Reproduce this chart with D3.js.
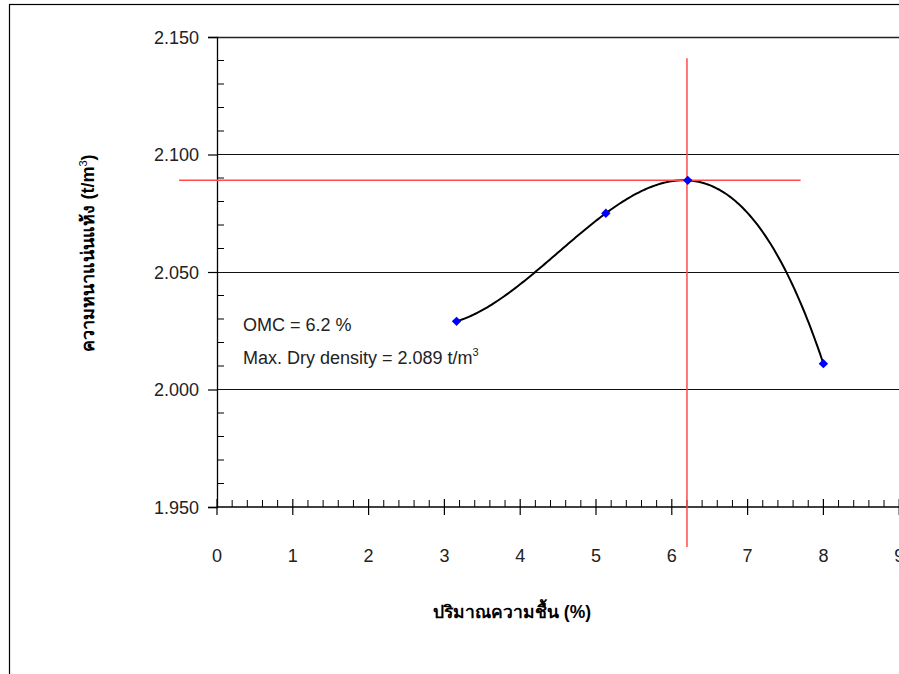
<!DOCTYPE html>
<html>
<head>
<meta charset="utf-8">
<script src="https://cdn.jsdelivr.net/npm/d3@7"></script>
<style>
  html, body { margin: 0; padding: 0; background: #fff; }
  svg { display: block; }
  text { font-family: "Liberation Sans", Arial, "Noto Sans", sans-serif; fill: #222; }
  .title { font-weight: bold; fill: #000; }
</style>
</head>
<body>
<svg id="chart" width="899" height="674"></svg>
<script>
// Compaction test results: moisture content (%) vs dry density (t/m3)
const moisture = [3.16, 5.13, 6.21, 8.00];
const dryDensity = [2.029, 2.075, 2.089, 2.011];

// Result of the test, marked with red guide lines
const omc = 6.2;
const maxDryDensity = 2.089;
const guideX = [-0.5, 7.7];     // extent of the horizontal guide (moisture %)
const guideY = [1.933, 2.141];  // extent of the vertical guide (t/m3)

// Axis ticks
const xTicks = [0, 1, 2, 3, 4, 5, 6, 7, 8, 9];
const yTicks = [1.950, 2.000, 2.050, 2.100, 2.150];

const xTitle = "ปริมาณความชื้น (%)";
const yTitle = "ความหนาแน่นแห้ง";

const svg = d3.select("#chart");

// Outer frame
svg.append("rect")
  .attr("x", 9.5).attr("y", 4.5)
  .attr("width", 1000).attr("height", 1000)
  .attr("fill", "none").attr("stroke", "#000").attr("stroke-width", 1.2);

const x = d3.scaleLinear().domain([0, 10]).range([217, 975]);
const y = d3.scaleLinear().domain([1.95, 2.15]).range([507, 37]);
const xRight = 899;

// Horizontal gridlines
svg.append("g").selectAll("line")
  .data(yTicks.filter(v => v > 1.95))
  .join("line")
  .attr("x1", x(0)).attr("x2", xRight)
  .attr("y1", d => Math.round(y(d)) + 0.5).attr("y2", d => Math.round(y(d)) + 0.5)
  .attr("stroke", d => d === 2.15 ? "#222" : "#111")
  .attr("stroke-width", d => d === 2.15 ? 1.6 : 1);

// Y axis with outward major ticks
const yAxis = d3.axisLeft(y).tickValues(yTicks).tickFormat(d3.format(".3f"))
  .tickSize(9).tickPadding(9);
const gy = svg.append("g").attr("transform", `translate(${x(0)},0)`).call(yAxis);
gy.select(".domain").attr("stroke", "#000").attr("stroke-width", 1.3);
gy.selectAll(".tick line").attr("stroke", "#000").attr("stroke-width", 1.2);
gy.selectAll(".tick text").style("font-size", "18px").attr("fill", "#222")
  .attr("dy", "0.36em");

// Y minor ticks (inside)
const yMinor = d3.range(195, 215).map(v => v / 100).filter(v => Math.round(v * 100) % 5 !== 0);
svg.append("g").selectAll("line")
  .data(yMinor)
  .join("line")
  .attr("x1", x(0)).attr("x2", x(0) + 7)
  .attr("y1", d => y(d)).attr("y2", d => y(d))
  .attr("stroke", "#000").attr("stroke-width", 1);

// X axis line
svg.append("line")
  .attr("x1", x(0)).attr("x2", xRight)
  .attr("y1", y(1.95)).attr("y2", y(1.95))
  .attr("stroke", "#000").attr("stroke-width", 1.6);

// X major ticks crossing the axis
svg.append("g").selectAll("line")
  .data(xTicks)
  .join("line")
  .attr("x1", d => x(d)).attr("x2", d => x(d))
  .attr("y1", y(1.95) - 8).attr("y2", y(1.95) + 8)
  .attr("stroke", "#000").attr("stroke-width", 1.2);

// X minor ticks (every 0.2, pointing up)
const xMinor = d3.range(0, 50).map(v => v / 5).filter(v => Math.round(v * 5) % 5 !== 0);
svg.append("g").selectAll("line")
  .data(xMinor)
  .join("line")
  .attr("x1", d => x(d)).attr("x2", d => x(d))
  .attr("y1", y(1.95) - 7).attr("y2", y(1.95))
  .attr("stroke", "#000").attr("stroke-width", 1);

// X tick labels
svg.append("g").selectAll("text")
  .data(xTicks)
  .join("text")
  .attr("x", d => x(d)).attr("y", 562)
  .attr("text-anchor", "middle")
  .style("font-size", "18px")
  .text(d => d);

// Axis titles
svg.append("text").attr("class", "title")
  .attr("x", 512).attr("y", 618)
  .attr("text-anchor", "middle")
  .style("font-size", "17.5px")
  .text(xTitle);

const yt = svg.append("text").attr("class", "title")
  .attr("transform", "translate(94,253) rotate(-90)")
  .attr("text-anchor", "middle")
  .style("font-size", "18px");
yt.append("tspan").text(yTitle + " (t/m");
yt.append("tspan").attr("dy", -7).style("font-size", "11px").style("font-weight", "normal").text("3");
yt.append("tspan").attr("dy", 7).text(")");

// Third-order polynomial trendline fitted to the test points (least squares)
function polyFit(xs, ys, order) {
  const n = order + 1;
  const A = Array.from({length: n}, () => new Array(n + 1).fill(0));
  xs.forEach((xv, k) => {
    for (let i = 0; i < n; i++) {
      for (let j = 0; j < n; j++) A[i][j] += Math.pow(xv, i + j);
      A[i][n] += ys[k] * Math.pow(xv, i);
    }
  });
  for (let c = 0; c < n; c++) {
    let p = c;
    for (let r = c + 1; r < n; r++) if (Math.abs(A[r][c]) > Math.abs(A[p][c])) p = r;
    [A[c], A[p]] = [A[p], A[c]];
    for (let r = 0; r < n; r++) {
      if (r === c) continue;
      const f = A[r][c] / A[c][c];
      for (let k = c; k <= n; k++) A[r][k] -= f * A[c][k];
    }
  }
  return A.map((row, i) => row[n] / row[i]);
}
const coef = polyFit(moisture, dryDensity, 3);
const poly = v => coef.reduce((s, c, i) => s + c * Math.pow(v, i), 0);
const [xMin, xMax] = d3.extent(moisture);
const fitXs = d3.range(0, 201).map(i => xMin + (xMax - xMin) * i / 200);

svg.append("path")
  .datum(fitXs)
  .attr("fill", "none")
  .attr("stroke", "#000")
  .attr("stroke-width", 2)
  .attr("d", d3.line().x(d => x(d)).y(d => y(poly(d))));

// Red guide lines at the optimum moisture content and maximum dry density
svg.append("line")
  .attr("x1", x(guideX[0])).attr("x2", x(guideX[1]))
  .attr("y1", y(maxDryDensity)).attr("y2", y(maxDryDensity))
  .attr("stroke", "#ff4a4a").attr("stroke-width", 1.5);
svg.append("line")
  .attr("x1", x(omc)).attr("x2", x(omc))
  .attr("y1", y(guideY[1])).attr("y2", y(guideY[0]))
  .attr("stroke", "#ff4a4a").attr("stroke-width", 1.5);

// Test points (diamonds)
svg.append("g").selectAll("path")
  .data(moisture.map((m, i) => [m, dryDensity[i]]))
  .join("path")
  .attr("transform", d => `translate(${x(d[0])},${y(d[1])}) rotate(45)`)
  .attr("d", d3.symbol(d3.symbolSquare, 44)())
  .attr("fill", "#0000ff");

// Result annotation
svg.append("text")
  .attr("x", 243).attr("y", 331)
  .style("font-size", "18px").attr("fill", "#111")
  .text(`OMC = ${omc} %`);
const ann = svg.append("text")
  .attr("x", 243).attr("y", 364)
  .style("font-size", "18px").attr("fill", "#111");
ann.append("tspan").text(`Max. Dry density = ${maxDryDensity.toFixed(3)} t/m`);
ann.append("tspan").attr("dy", -8).style("font-size", "11px").text("3");
</script>
</body>
</html>
